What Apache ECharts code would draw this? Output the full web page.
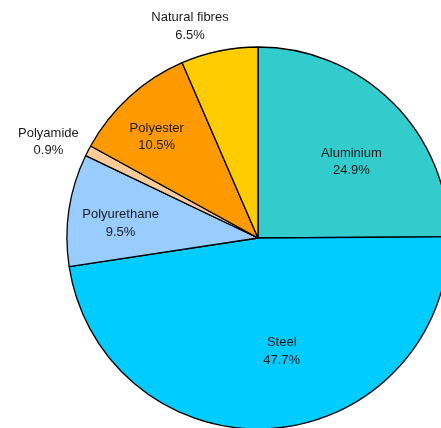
<!DOCTYPE html>
<html>
<head>
<meta charset="utf-8">
<script src="https://cdn.jsdelivr.net/npm/echarts@6/dist/echarts.min.js"></script>
<style>
  html, body { margin: 0; padding: 0; background: #fff; }
  #container { width: 441px; height: 428px; }
</style>
</head>
<body>
<div id="container"></div>
<script>
// materials and their shares (%)
var materials = ['Aluminium', 'Steel', 'Polyurethane', 'Polyamide', 'Polyester', 'Natural fibres']
var shares = [24.9, 47.7, 9.5, 0.9, 10.5, 6.5]
var colors = ['#33cccc', '#00ccff', '#99ccff', '#ffcc99', '#ff9900', '#ffcc00']

// nudges for each label from the default 'inside' spot
var labelShift = [[24, -6], [16, 15], [-40, 0], [-122, -51], [-35, -28], [-48, -115]]

var dom = document.getElementById('container')
var myChart = echarts.init(dom)

var pieData = []
for (var i = 0; i < materials.length; i++) {
    pieData.push({
        name: materials[i],
        value: shares[i],
        itemStyle: { color: colors[i] }
    })
}

var option = {
    animation: false,
    series: [{
        type: 'pie',
        center: [258, 238],
        radius: 191,
        startAngle: 90,
        clockwise: true,
        avoidLabelOverlap: false,
        itemStyle: { borderColor: '#000', borderWidth: 1.3 },
        label: {
            show: true,
            position: 'inside',
            color: '#1a1a1a',
            fontFamily: 'Liberation Sans, Arial, sans-serif',
            fontSize: 13,
            lineHeight: 17.5,
            align: 'center',
            formatter: function (p) {
                return p.name + '\n' + p.value.toFixed(1) + '%'
            }
        },
        labelLine: { show: false },
        labelLayout: function (p) {
            var s = labelShift[p.dataIndex]
            return { dx: s[0], dy: s[1] }
        },
        emphasis: { disabled: true },
        data: pieData
    }]
}

myChart.setOption(option)
</script>
</body>
</html>
